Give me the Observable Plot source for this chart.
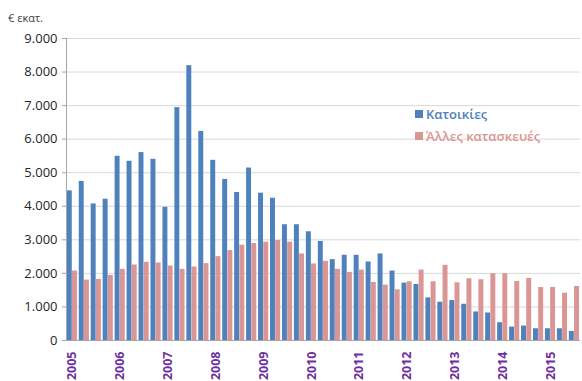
<!DOCTYPE html>
<html>
<head>
<meta charset="utf-8">
<script src="https://cdn.jsdelivr.net/npm/d3@7"></script>
<script src="https://cdn.jsdelivr.net/npm/@observablehq/plot@0.6"></script>
<style>
  html, body { margin: 0; padding: 0; background: #fff; }
  #wrap { position: relative; width: 582px; height: 381px; overflow: hidden; font-family: "Open Sans", "Noto Sans", sans-serif; }
  #unit { position: absolute; left: 8px; top: 10px; font-size: 11px; color: #404040; }
  #legend { position: absolute; left: 415px; top: 103px; font-size: 13px; font-weight: 600; line-height: 22px; }
  #legend .sw { display: inline-block; width: 8px; height: 8px; margin-right: 3px; vertical-align: 1px; }
</style>
</head>
<body>
<div id="wrap">
  <div id="chart"></div>
  <div id="unit">€ εκατ.</div>
  <div id="legend"></div>
</div>
<script>
const years = [2005, 2006, 2007, 2008, 2009, 2010, 2011, 2012, 2013, 2014, 2015];
const quarters = ["Q1", "Q2", "Q3", "Q4"];
const seriesNames = ["Κατοικίες", "Άλλες κατασκευές"];
const seriesColors = ["#4f81bd", "#d99694"];
const housing = [4460, 4740, 4070, 4210, 5490, 5340, 5600, 5400, 3970, 6940, 8190, 6230,
  5370, 4800, 4410, 5140, 4390, 4240, 3450, 3450, 3240, 2950, 2410, 2540,
  2540, 2340, 2580, 2070, 1710, 1670, 1270, 1140, 1190, 1080, 850, 820,
  530, 400, 430, 350, 350, 350, 270];
const other = [2070, 1800, 1820, 1940, 2120, 2250, 2330, 2310, 2220, 2120, 2190, 2290,
  2500, 2680, 2840, 2890, 2930, 2980, 2930, 2580, 2280, 2360, 2120, 2030,
  2100, 1730, 1650, 1510, 1750, 2100, 1750, 2240, 1720, 1840, 1810, 1990,
  1990, 1760, 1850, 1580, 1580, 1410, 1610];
const yTicks = [0, 1000, 2000, 3000, 4000, 5000, 6000, 7000, 8000, 9000];

const keys = [];
years.forEach(y => quarters.forEach(q => keys.push(y + q)));
const periods = keys.slice(0, housing.length);
const rowsH = periods.map((p, i) => ({period: p, value: housing[i]}));
const rowsO = periods.map((p, i) => ({period: p, value: other[i]}));
const fmt = d => d3.format(",")(d).replace(/,/g, ".");

const chart = Plot.plot({
  width: 582,
  height: 381,
  marginLeft: 66,
  marginRight: 2,
  marginTop: 38,
  marginBottom: 41,
  style: {fontFamily: "'Open Sans', 'Noto Sans', sans-serif", background: "#fff"},
  x: {type: "band", domain: periods, paddingInner: 0, paddingOuter: 0},
  y: {domain: [0, 9000]},
  marks: [
    Plot.gridY(yTicks, {stroke: "#d9d9d9", strokeOpacity: 1}),
    Plot.barY(rowsH, {x: "period", y: "value", fill: seriesColors[0], insetLeft: 0.8, insetRight: 6.2}),
    Plot.barY(rowsO, {x: "period", y: "value", fill: seriesColors[1], insetLeft: 6.0, insetRight: 1.0}),
    Plot.ruleY([0], {stroke: "#a6a6a6"}),
    Plot.axisY(yTicks, {tickFormat: fmt, tickSize: 4, tickPadding: 5, fontSize: 13, fill: "#262626", stroke: "#a6a6a6", label: null}),
    Plot.ruleX([periods[0]], {y1: 0, y2: 9000, stroke: "#a6a6a6", dx: -6}),
    Plot.axisX(periods.filter(p => p.endsWith("Q1")), {
      tickFormat: d => d.slice(0, 4), tickRotate: -90, tickSize: 0, tickPadding: 11,
      fontSize: 12.5, fontWeight: "bold", fill: "#7030a0", label: null
    })
  ]
});
document.getElementById("chart").appendChild(chart);

const legend = document.getElementById("legend");
seriesNames.forEach((n, i) => {
  const row = document.createElement("div");
  row.style.color = seriesColors[i];
  row.innerHTML = `<span class="sw" style="background:${seriesColors[i]}"></span>${n}`;
  legend.appendChild(row);
});
</script>
</body>
</html>
